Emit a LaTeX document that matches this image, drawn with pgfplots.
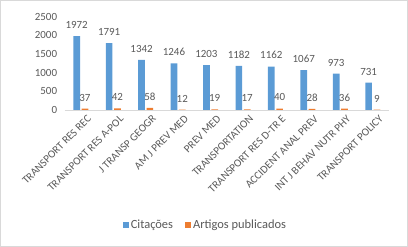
\documentclass[border=0pt]{standalone}
\usepackage{pgfplots}
\pgfplotsset{compat=1.18}
\usepackage{fontspec}
\setmainfont{Carlito}
\definecolor{cblue}{HTML}{5B9BD5}
\definecolor{corange}{HTML}{ED7D31}
\definecolor{ctext}{HTML}{595959}
\definecolor{cline}{HTML}{D9D9D9}
\begin{document}
\begin{tikzpicture}
\useasboundingbox (0,0) rectangle (408bp,247bp);
\draw[cline] (0.5bp,0.5bp) rectangle (407.5bp,246.5bp);
\begin{axis}[
  at={(64.6bp,137bp)}, anchor=south west,
  scale only axis, width=324.4bp, height=93.5bp,
  xmin=-0.5, xmax=9.5, ymin=0, ymax=2500,
  ybar=1.6bp, bar width=6.7bp,
  ytick={0,500,1000,1500,2000,2500},
  xtick={0,...,9},
  xticklabels={TRANSPORT RES REC,TRANSPORT RES A-POL,J TRANSP GEOGR,AM J PREV MED,PREV MED,TRANSPORTATION,TRANSPORT RES D-TR E,ACCIDENT ANAL PREV,INT J BEHAV NUTR PHY,TRANSPORT POLICY},
  xticklabel style={rotate=45, anchor=east, font=\fontsize{11}{12}\selectfont, text=ctext, inner sep=1bp, xshift=2bp, yshift=-11bp},
  yticklabel style={font=\fontsize{11}{12}\selectfont, text=ctext, xshift=-4bp},
  /pgf/number format/assume math mode=true,
  /pgf/number format/1000 sep={},
  axis x line*=bottom, axis y line*=left,
  y axis line style={draw=none},
  x axis line style={cline, -},
  major tick length=0pt,
  nodes near coords,
  nodes near coords style={font=\fontsize{11}{12}\selectfont, text=ctext, yshift=4bp},
  legend columns=2,
  legend style={at={(0.434,-1.23)}, anchor=center, draw=none, font=\fontsize{12.5}{13}\selectfont, text=ctext, /tikz/every even column/.append style={column sep=10bp}},
  legend image code/.code={\fill[#1] (0bp,-3bp) rectangle (6bp,3bp);},
]
\addplot[fill=cblue, draw=none] coordinates {(0,1972) (1,1791) (2,1342) (3,1246) (4,1203) (5,1182) (6,1162) (7,1067) (8,973) (9,731)};
\addplot[fill=corange, draw=none] coordinates {(0,37) (1,42) (2,58) (3,12) (4,19) (5,17) (6,40) (7,28) (8,36) (9,9)};
\legend{Citações, Artigos publicados}
\end{axis}
\end{tikzpicture}
\end{document}
